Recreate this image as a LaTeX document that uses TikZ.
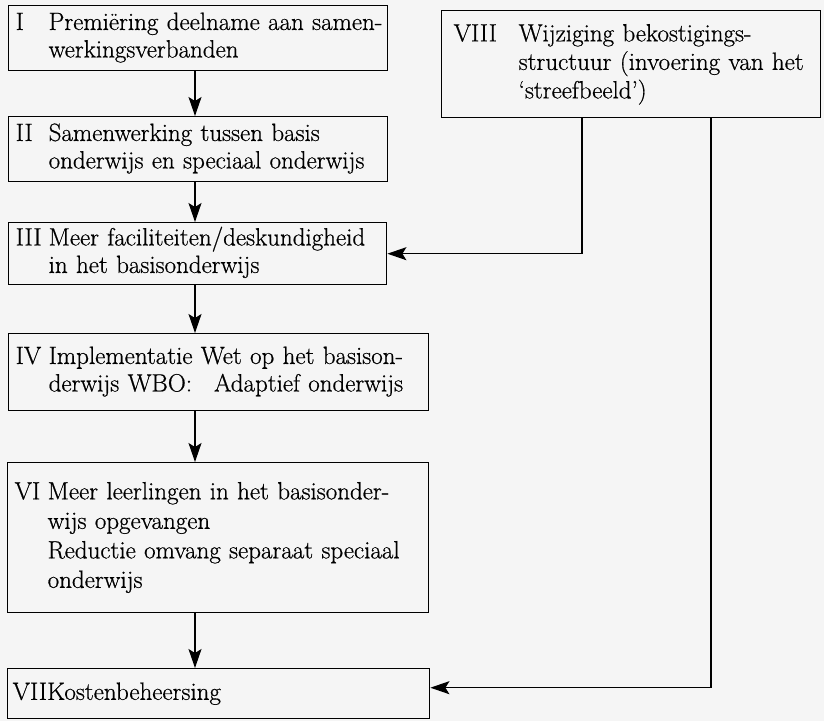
\documentclass[tikz,border=0pt]{standalone}
\usepackage{fontspec}
\setmainfont{Latin Modern Roman}[RawFeature={embolden=0.6}]
\usetikzlibrary{arrows.meta}
\begin{document}
\begin{tikzpicture}[x=1pt,y=-1pt,
  box/.style={draw, line width=1.4pt, anchor=north west, inner xsep=7pt, inner ysep=0pt,
    align=left, font=\fontsize{25}{27.5}\selectfont},
  flow/.style={line width=1.2pt, -{Stealth[length=19pt,width=13pt,inset=4pt]}}]
  % page area
  \fill[gray!8] (0,0) rectangle (824,721);
  \useasboundingbox (0,0) rectangle (824,721);

  % left column of steps
  \node[box, minimum width=379pt, minimum height=65pt, text width=365pt] (I) at (8,5)
    {\begin{tabular}{@{}p{33pt}@{}l@{}}I & Premiëring deelname aan samen-\\ & werkingsverbanden\end{tabular}};
  \node[box, minimum width=379pt, minimum height=65pt, text width=365pt] (II) at (8,116)
    {\begin{tabular}{@{}p{33pt}@{}l@{}}II & Samenwerking tussen basis\\ & onderwijs en speciaal onderwijs\end{tabular}};
  \node[box, minimum width=378pt, minimum height=62pt, text width=364pt] (III) at (8,222)
    {\begin{tabular}{@{}p{33pt}@{}l@{}}III & Meer faciliteiten/deskundigheid\\ & in het basisonderwijs\end{tabular}};
  \node[box, minimum width=420pt, minimum height=77pt, text width=406pt] (IV) at (8,333)
    {\begin{tabular}{@{}p{33pt}@{}l@{}}IV & Implementatie Wet op het basison-\\ & derwijs WBO:\hspace{22pt}Adaptief onderwijs\end{tabular}};
  \node[box, minimum width=421pt, minimum height=150pt, text width=407pt,
        font=\fontsize{25}{29.5}\selectfont] (VI) at (7,462)
    {\begin{tabular}{@{}p{33pt}@{}l@{}}VI & Meer leerlingen in het basisonder-\\ & wijs opgevangen\\ & Reductie omvang separaat speciaal\\ & onderwijs\end{tabular}};
  \node[box, inner xsep=5pt, minimum width=422pt, minimum height=50pt, text width=412pt] (VII) at (7,668)
    {VIIKostenbeheersing};

  % funding box on the right
  \node[box, inner xsep=12pt, minimum width=379pt, minimum height=107pt, text width=355pt,
        font=\fontsize{25}{28.5}\selectfont] (VIII) at (441,10)
    {\begin{tabular}{@{}p{65pt}@{}l@{}}VIII & Wijziging bekostigings-\\ & structuur (invoering van het\\ & `streefbeeld')\end{tabular}};

  % connector columns
  \coordinate (ax) at (195,0);
  \coordinate (r1) at (582,0);
  \coordinate (r2) at (711,0);

  \draw[flow] (I.south -| ax) -- (II.north -| ax);
  \draw[flow] (II.south -| ax) -- (III.north -| ax);
  \draw[flow] (III.south -| ax) -- (IV.north -| ax);
  \draw[flow] (IV.south -| ax) -- (VI.north -| ax);
  \draw[flow] (VI.south -| ax) -- (VII.north -| ax);

  \draw[flow] (VIII.south -| r1) |- (III.east);
  \draw[flow] (VIII.south -| r2) |- ([yshift=6pt]VII.east);
\end{tikzpicture}
\end{document}
